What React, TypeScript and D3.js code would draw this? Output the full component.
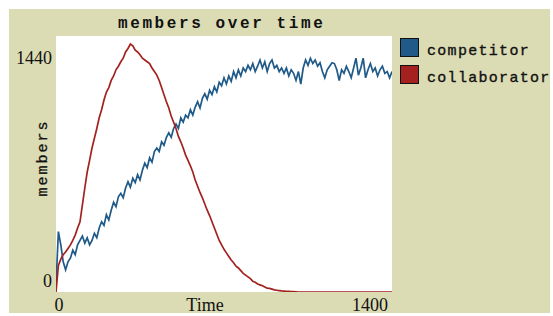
import React from "react";
import * as d3 from "d3";

// ticks sampled every 10 time steps, 0..1400
const times = d3.range(0, 1401, 10);

const competitor = [
  40, 340, 265, 170, 125, 170, 190, 235, 210, 265,
  290, 315, 275, 305, 265, 290, 330, 305, 360, 395,
  375, 435, 405, 460, 505, 480, 535, 555, 530, 585,
  620, 590, 640, 615, 660, 630, 685, 725, 700, 755,
  730, 790, 810, 790, 845, 825, 870, 895, 870, 920,
  945, 920, 980, 955, 995, 980, 1025, 995, 1040, 1070,
  1035, 1090, 1115, 1085, 1135, 1110, 1155, 1125, 1180, 1160,
  1205, 1170, 1215, 1185, 1240, 1205, 1250, 1215, 1260, 1240,
  1275, 1250, 1285, 1240, 1270, 1305, 1260, 1295, 1240, 1285,
  1305, 1260, 1275, 1240, 1260, 1230, 1260, 1215, 1250, 1230,
  1190, 1240, 1170, 1260, 1305, 1275, 1315, 1285, 1305, 1270,
  1290, 1240, 1205, 1250, 1270, 1290, 1285, 1250, 1190, 1250,
  1230, 1270, 1240, 1205, 1260, 1315, 1220, 1260, 1315, 1205,
  1250, 1285, 1240, 1260, 1215, 1250, 1270, 1230, 1240, 1205,
  1240
];

const collaborator = [
  0, 150, 185, 210, 225, 245, 265, 290, 320, 360,
  395, 490, 585, 675, 740, 810, 865, 920, 980, 1025,
  1080, 1125, 1150, 1190, 1215, 1250, 1270, 1295, 1315, 1350,
  1370, 1395, 1385, 1360, 1350, 1335, 1315, 1305, 1295, 1285,
  1260, 1240, 1220, 1190, 1150, 1110, 1070, 1035, 990, 955,
  920, 875, 845, 810, 770, 740, 710, 675, 630, 595,
  560, 530, 495, 460, 430, 395, 360, 325, 290, 265,
  240, 220, 200, 180, 165, 145, 135, 120, 105, 95,
  85, 75, 60, 55, 45, 40, 35, 28, 22, 20,
  16, 12, 10, 8, 6, 5, 4, 3, 2, 2,
  1, 0, 0, 0, 0, 0, 0, 0, 0, 0,
  0, 0, 0, 0, 0, 0, 0, 0, 0, 0,
  0, 0, 0, 0, 0, 0, 0, 0, 0, 0,
  0, 0, 0, 0, 0, 0, 0, 0, 0, 0,
  0
];

const seriesNames = ["competitor", "collaborator"];
const seriesColors = ["#1f5a88", "#a3211f"];

const W = 553, H = 316;
const plot = { left: 56, right: 392, top: 36, bottom: 292 };

export default function App() {
  const x = d3.scaleLinear().domain([0, 1400]).range([plot.left, plot.right]);
  const y = d3.scaleLinear().domain([0, 1440]).range([plot.bottom, plot.top]);

  const line = d3
    .line<number>()
    .x((d, i) => x(times[i]))
    .y((d) => y(d));

  const allSeries = [competitor, collaborator];
  const mono = "'Liberation Mono', 'DejaVu Sans Mono', monospace";
  const serif = "'Liberation Serif', 'DejaVu Serif', serif";

  return (
    <svg
      width={W}
      height={H}
      style={{ position: "absolute", left: 0, top: 0 }}
    >
      <rect x={0} y={0} width={W} height={H} fill="#ffffff" />
      <rect x={9} y={9} width={541} height={304} fill="#dcdcb4" />
      <text
        x={118}
        y={28}
        fontFamily={mono}
        fontWeight="bold"
        fontSize={16}
        letterSpacing={2.6}
        fill="#111"
      >
        members over time
      </text>
      <rect
        x={plot.left}
        y={plot.top}
        width={plot.right - plot.left}
        height={plot.bottom - plot.top}
        fill="#ffffff"
      />
      <defs>
        <clipPath id="plotclip">
          <rect
            x={plot.left}
            y={plot.top - 2}
            width={plot.right - plot.left}
            height={plot.bottom - plot.top + 2}
          />
        </clipPath>
      </defs>
      <g clipPath="url(#plotclip)">
        {allSeries.map((s, i) => (
          <path
            key={seriesNames[i]}
            d={line(s) || ""}
            fill="none"
            stroke={seriesColors[i]}
            strokeWidth={1.7}
            strokeLinejoin="miter"
          />
        ))}
      </g>
      {/* y axis labels */}
      <text x={52} y={64} textAnchor="end" fontFamily={serif} fontSize={18} fill="#111">
        {y.domain()[1]}
      </text>
      <text x={52} y={287} textAnchor="end" fontFamily={serif} fontSize={18} fill="#111">
        {y.domain()[0]}
      </text>
      <text
        transform="translate(47,158) rotate(-90)"
        textAnchor="middle"
        fontFamily={mono}
        fontSize={15}
        letterSpacing={2}
        fill="#111"
        stroke="#111"
        strokeWidth={0.3}
      >
        members
      </text>
      {/* x axis labels */}
      <text x={x(0) + 3} y={311} textAnchor="middle" fontFamily={serif} fontSize={18} fill="#111">
        {x.domain()[0]}
      </text>
      <text x={205} y={311} textAnchor="middle" fontFamily={serif} fontSize={18} fill="#111">
        Time
      </text>
      <text x={plot.right - 4} y={311} textAnchor="end" fontFamily={serif} fontSize={18} fill="#111">
        {x.domain()[1]}
      </text>
      {/* legend */}
      {seriesNames.map((name, i) => (
        <g key={name} transform={`translate(400,${38 + i * 27})`}>
          <rect
            x={0.5}
            y={0.5}
            width={18}
            height={18}
            fill={seriesColors[i]}
            stroke="#111"
            strokeWidth={1}
          />
          <text
            x={27}
            y={17}
            fontFamily={mono}
            fontSize={15}
            letterSpacing={1.3}
            fill="#111"
            stroke="#111"
            strokeWidth={0.35}
          >
            {name}
          </text>
        </g>
      ))}
    </svg>
  );
}
